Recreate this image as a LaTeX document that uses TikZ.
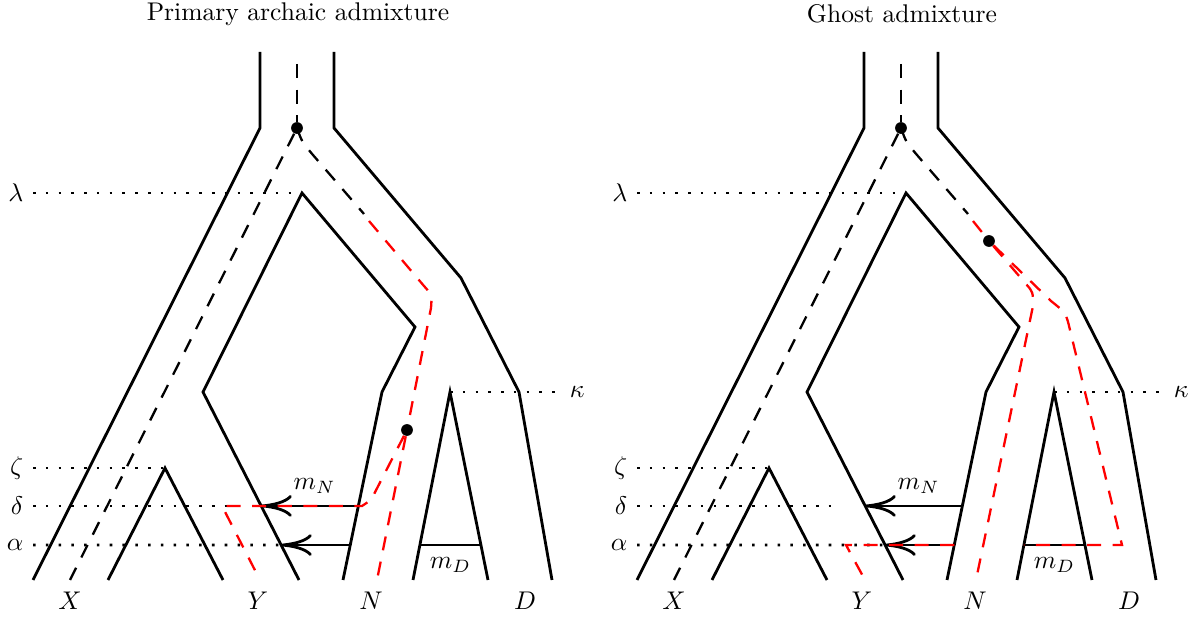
\documentclass[tikz,border=0pt]{standalone}
\usepackage{tikz}
\usetikzlibrary{arrows.meta,calc}
\tikzset{
  wall/.style={line width=1.1pt, line join=miter},
  lineage/.style={line width=0.9pt, dash pattern=on 5.5pt off 4.5pt},
  redline/.style={lineage, color=red},
  epoch/.style={line width=1pt, dash pattern=on 1pt off 4pt},
  migarrow/.style={wall, -{To[length=12pt,width=8.5pt]}},
  coal/.style={circle, fill=black, inner sep=0pt, minimum size=4.6pt}
}

\begin{document}
\begin{tikzpicture}[x=0.01375cm, y=-0.01375cm]
  \useasboundingbox (0,0) rectangle (1200,617);
  \foreach \dx/\p/\ttl in {0/0/Primary archaic admixture, 604/1/Ghost admixture}{
    \begin{scope}[shift={(\dx,0)}]
      \node (title\p) at (298,14) {\ttl};
      % population walls
      \coordinate (apex\p) at (302,193);
      \coordinate (ykink\p) at (203,392);
      \coordinate (ybot\p) at (299,580);
      \coordinate (nkink\p) at (382,392);
      \coordinate (nbot\p) at (343,580);
      \coordinate (zeta\p) at (165,468);
      \coordinate (kap\p) at (450,392);
      \coordinate (nrbot\p) at (413,580);
      \coordinate (dlbot\p) at (488,580);
      \draw[wall] (260,52) -- (260,128) -- (33,580);
      \draw[wall] (334,52) -- (334,128) -- (461,278) -- (519,392) -- (552,580);
      \draw[wall] (ybot\p) -- (ykink\p) -- (apex\p) -- (415,327) -- (nkink\p) -- (nbot\p);
      \draw[wall] (108,580) -- (zeta\p) -- (223,580);
      \draw[wall] (nrbot\p) -- (kap\p) -- (dlbot\p);
      % migration points on the walls
      \coordinate (dN\p) at ($(nkink\p)!0.606!(nbot\p)$);
      \coordinate (dY\p) at ($(ykink\p)!0.606!(ybot\p)$);
      \coordinate (aN\p) at ($(nkink\p)!0.814!(nbot\p)$);
      \coordinate (aY\p) at ($(ykink\p)!0.814!(ybot\p)$);
      \coordinate (aNr\p) at ($(kap\p)!0.814!(nrbot\p)$);
      \coordinate (aD\p) at ($(kap\p)!0.814!(dlbot\p)$);
      % epochs
      \draw[epoch] (33,193) node[left] (lam\p) {$\lambda$} -- (apex\p);
      \draw[epoch] (kap\p) -- (560,392) node[right] (kappa\p) {$\kappa$};
      \draw[epoch] (33,468) node[left] (zet\p) {$\zeta$} -- (zeta\p);
      \draw[epoch] (33,506) node[left] (del\p) {$\delta$} -- (236,506);
      \draw[epoch] (33,545) node[left] (alp\p) {$\alpha$} -- (aY\p);
      % migration
      \draw[migarrow] (dN\p) -- node[pos=0.45, above=1pt] (mN\p) {$m_N$} (dY\p);
      \draw[migarrow] (aN\p) -- (aY\p);
      \draw[wall] (aNr\p) -- node[below=1pt] (mD\p) {$m_D$} (aD\p);
      % gene lineages
      \node[coal] (root\p) at (297,128) {};
      \draw[lineage] (297,64) -- (root\p);
      \draw[lineage] (root\p) -- (70,580);
      \draw[lineage] (root\p.center) .. controls (302,142) .. (313,155) -- (364,214);
      % samples
      \node (X\p) at (70,601) {$X$};
      \node (Y\p) at (258,601) {$Y$};
      \node (N\p) at (371,601) {$N$};
      \node (D\p) at (525,601) {$D$};
    \end{scope}
  }
  % primary archaic admixture
  \node[coal] (nco) at (407,430) {};
  \draw[redline] (369,221) -- (424,286) .. controls (432,295) .. (431,308) -- (nco);
  \draw[redline] (nco) -- (377,580);
  \draw[redline] (nco) -- (371,500) -- (362,506) -- (222,506) -- (260,580);
  % ghost admixture
  \begin{scope}[shift={(604,0)}]
    \node[coal] (gco) at (385,241) {};
    \draw[redline] (369,221) -- (gco);
    \draw[redline] (gco) -- (422,284) .. controls (429,292) .. (429,306) -- (372,580);
    \draw[redline] (gco) -- (447,301) .. controls (462,313) .. (466,330) -- (518,545) -- (aNr1);
    \draw[redline] (aN1) -- (242,545) -- (261,580);
  \end{scope}
\end{tikzpicture}
\end{document}
